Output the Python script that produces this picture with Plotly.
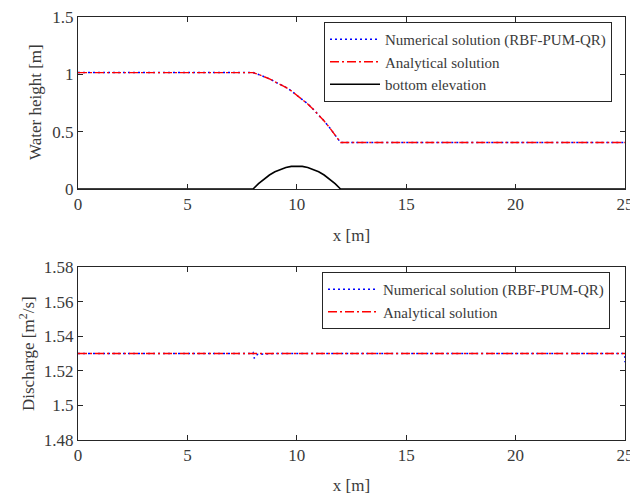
import plotly.graph_objects as go

# ---- data ----
x_h = [0, 1, 2, 3, 4, 5, 6, 7, 8, 8.25, 8.5, 8.75, 9, 9.25, 9.5, 9.75, 10,
       10.25, 10.5, 10.75, 11, 11.25, 11.5, 11.75, 12, 13, 14, 15, 16, 17,
       18, 19, 20, 21, 22, 23, 24, 25]
h_analytical = [1.015, 1.015, 1.015, 1.015, 1.015, 1.015, 1.015, 1.015, 1.015,
                0.999, 0.981, 0.961, 0.935, 0.913, 0.887, 0.856, 0.820,
                0.783, 0.742, 0.696, 0.647, 0.593, 0.535, 0.473, 0.406,
                0.406, 0.406, 0.406, 0.406, 0.406, 0.406, 0.406, 0.406,
                0.406, 0.406, 0.406, 0.406, 0.406]
h_numerical = [1.015, 1.015, 1.015, 1.015, 1.015, 1.015, 1.015, 1.015, 1.015,
               0.999, 0.981, 0.961, 0.935, 0.913, 0.887, 0.856, 0.820,
               0.783, 0.742, 0.696, 0.647, 0.593, 0.535, 0.473, 0.406,
               0.406, 0.406, 0.406, 0.406, 0.406, 0.406, 0.406, 0.406,
               0.406, 0.406, 0.406, 0.406, 0.406]

x_bed = [0, 8, 8.25, 8.5, 8.75, 9, 9.25, 9.5, 9.75, 10, 10.25, 10.5, 10.75,
         11, 11.25, 11.5, 11.75, 12, 25]
z_bed = [0, 0, 0.047, 0.0875, 0.122, 0.15, 0.172, 0.1875, 0.197, 0.2, 0.197,
         0.1875, 0.172, 0.15, 0.122, 0.0875, 0.047, 0, 0]

x_q = [0, 4, 7.9, 8.0, 8.05, 8.2, 8.6, 9, 12, 16, 20, 24, 24.9, 24.95, 25, 25]
q_analytical = [1.53] * 16
q_numerical = [1.53, 1.53, 1.53, 1.5305, 1.5272, 1.5295, 1.5297, 1.53, 1.53,
               1.53, 1.53, 1.53, 1.53, 1.5295, 1.5285, 1.525]

h_ticks = [0, 0.5, 1, 1.5]
h_ticktext = ["0", "0.5", "1", "1.5"]
q_ticks = [1.48, 1.5, 1.52, 1.54, 1.56, 1.58]
q_ticktext = ["1.48", "1.5", "1.52", "1.54", "1.56", "1.58"]
x_ticks = [0, 5, 10, 15, 20, 25]

# ---- figure ----
FONT = "Liberation Serif"
TXT = "#3a3a3a"
BLUE_DOT = dict(color="rgb(0,0,255)", width=1.5, dash="2px,3px")
RED_DASHDOT = dict(color="rgb(255,0,0)", width=1.4, dash="9px,3px,2px,3px")
fig = go.Figure()

fig.add_trace(go.Scatter(x=x_h, y=h_numerical, mode="lines",
                         name="Numerical solution (RBF-PUM-QR)", line=BLUE_DOT,
                         xaxis="x", yaxis="y", legend="legend"))
fig.add_trace(go.Scatter(x=x_h, y=h_analytical, mode="lines",
                         name="Analytical solution", line=RED_DASHDOT,
                         xaxis="x", yaxis="y", legend="legend"))
fig.add_trace(go.Scatter(x=x_bed, y=z_bed, mode="lines",
                         name="bottom elevation",
                         line=dict(color="black", width=1.6),
                         xaxis="x", yaxis="y", legend="legend"))

fig.add_trace(go.Scatter(x=x_q, y=q_numerical, mode="lines",
                         name="Numerical solution (RBF-PUM-QR)", line=BLUE_DOT,
                         xaxis="x2", yaxis="y2", legend="legend2"))
fig.add_trace(go.Scatter(x=x_q, y=q_analytical, mode="lines",
                         name="Analytical solution", line=RED_DASHDOT,
                         xaxis="x2", yaxis="y2", legend="legend2"))

axis_common = dict(showgrid=False, zeroline=False, showline=True, mirror="ticks",
                   linecolor="#262626", linewidth=1, ticks="inside", ticklen=5,
                   tickcolor="#262626", ticklabeloverflow="allow", automargin=False,
                   tickfont=dict(family=FONT, size=17, color=TXT),
                   title_font=dict(family=FONT, size=17, color=TXT))

xd = [78 / 630, 625 / 630]
leg_common = dict(xanchor="right", yanchor="top", bgcolor="white",
                  bordercolor="#262626", borderwidth=1,
                  font=dict(family=FONT, size=15, color=TXT),
                  itemwidth=50, tracegroupgap=0)
fig.update_layout(
    width=630, height=495,
    margin=dict(l=0, r=0, t=0, b=0),
    paper_bgcolor="white", plot_bgcolor="white",
    font=dict(family=FONT, size=15, color=TXT),
    xaxis=dict(domain=xd, anchor="y", range=[0, 25], tickvals=x_ticks,
               title=dict(text="x [m]"), **axis_common),
    yaxis=dict(domain=[1 - 189 / 495, 1 - 17 / 495], anchor="x", range=[0, 1.5],
               tickvals=h_ticks, ticktext=h_ticktext, **axis_common),
    xaxis2=dict(domain=xd, anchor="y2", range=[0, 25], tickvals=x_ticks,
                title=dict(text="x [m]"), **axis_common),
    yaxis2=dict(domain=[1 - 440 / 495, 1 - 267 / 495], anchor="x2", range=[1.48, 1.58],
                tickvals=q_ticks, ticktext=q_ticktext, **axis_common),
    legend=dict(x=612 / 630, y=1 - 22 / 495, **leg_common),
    legend2=dict(x=610 / 630, y=1 - 272 / 495, **leg_common),
    showlegend=True,
    annotations=[
        dict(text="Water height [m]", xref="paper", yref="paper",
             x=35 / 630, y=1 - 102 / 495, xanchor="center", yanchor="middle",
             textangle=-90, showarrow=False,
             font=dict(family=FONT, size=17, color=TXT)),
        dict(text="Discharge [m<sup>2</sup>/s]", xref="paper", yref="paper",
             x=27 / 630, y=1 - 354 / 495, xanchor="center", yanchor="middle",
             textangle=-90, showarrow=False,
             font=dict(family=FONT, size=17, color=TXT)),
    ],
)

fig.write_html("out.html")
